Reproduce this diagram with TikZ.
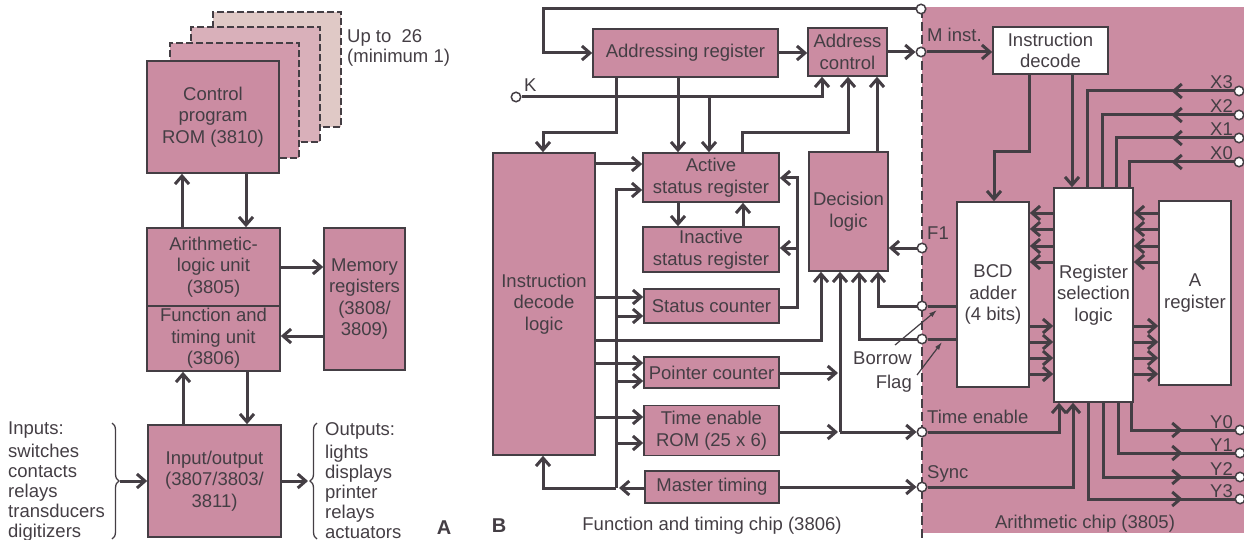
\documentclass[tikz,border=0pt]{standalone}
\usepackage{fontspec}
\setmainfont{Liberation Sans}
\usetikzlibrary{arrows.meta,decorations.pathreplacing,decorations.markings}
\definecolor{chip}{RGB}{203,140,162}
\definecolor{ghostA}{RGB}{210,154,172}
\definecolor{ghostB}{RGB}{217,176,186}
\definecolor{ghostC}{RGB}{224,201,198}
\definecolor{ink}{RGB}{68,62,68}
\begin{document}
\begin{tikzpicture}[x=1pt,y=-1pt,line join=miter,
  font=\fontsize{18.5}{21.5}\selectfont,
  blk/.style={draw=ink,line width=1.6pt,fill=chip,inner sep=0pt,align=center,text=ink},
  wblk/.style={blk,fill=white},
  ghost/.style={draw=ink,line width=1.5pt,dash pattern=on 7pt off 3pt,inner sep=0pt},
  ln/.style={draw=ink,line width=3pt},
  arr/.style={ln,-{Straight Barb[length=8pt,width=14pt]}},
  port/.style={circle,draw=ink,fill=white,line width=1.5pt,minimum size=9.5pt,inner sep=0pt},
  lbl/.style={inner sep=0pt,text=ink},
  midarr/.style={ln,postaction={decorate},decoration={markings,mark=at position #1 with {\arrow{Straight Barb[length=8pt,width=14pt]}}}},
  ptr/.style={draw=ink,line width=1.2pt,-{Latex[length=8pt,width=5pt]}},
  brc/.style={draw=ink,line width=1.3pt,decorate,decoration={brace,amplitude=7pt}},
]
\useasboundingbox (0,0) rectangle (1244,540);

% ---------------- Panel A: system ----------------
\node[ghost,fill=ghostC,minimum width=128pt,minimum height=115pt] (g3) at (277,69.5) {};
\node[ghost,fill=ghostB,minimum width=129pt,minimum height=115pt] (g2) at (255.5,84.5) {};
\node[ghost,fill=ghostA,minimum width=129pt,minimum height=115pt] (g1) at (234.5,100.5) {};
\node[blk,minimum width=132pt,minimum height=112pt] (rom) at (213,117) {Control\\program\\ROM (3810)};
\node[lbl,anchor=north west,align=left,font=\fontsize{18.5}{20}\selectfont] (upto) at (347,29) {Up to\ \ 26\\(minimum 1)};

\node[blk,minimum width=133pt,minimum height=78pt] (alu) at (213.5,267) {Arithmetic-\\logic unit\\(3805)};
\node[blk,minimum width=133pt,minimum height=65pt] (ftu) at (213.5,338.5) {Function and\\timing unit\\(3806)};
\node[blk,minimum width=81pt,minimum height=142pt] (mem) at (364.5,299) {Memory\\registers\\(3808/\\3809)};
\node[blk,minimum width=133pt,minimum height=112pt] (io) at (214.5,481) {Input/output\\(3807/3803/\\3811)};

\draw[arr] (alu.north -| 182,0) -- (rom.south -| 182,0);
\draw[arr] (rom.south -| 246,0) -- (alu.north -| 246,0);
\draw[arr] (alu.east |- 0,267) -- (mem.west |- 0,267);
\draw[arr] (mem.west |- 0,336) -- (ftu.east |- 0,336);
\draw[arr] (io.north -| 183,0) -- (ftu.south -| 183,0);
\draw[arr] (ftu.south -| 247,0) -- (io.north -| 247,0);

\node[lbl,anchor=north west,align=left,font=\fontsize{18.5}{20}\selectfont] (inp) at (8,422)
  {Inputs:\\[3pt]switches\\contacts\\relays\\transducers\\digitizers};
\node[lbl,anchor=north west,align=left,font=\fontsize{18.5}{20}\selectfont] (outp) at (325,422)
  {Outputs:\\[3pt]lights\\displays\\printer\\relays\\actuators};
\draw[brc] (112,423) -- (112,539);
\coordinate (inTip) at (120,481);
\draw[arr] (inTip) -- (io.west |- inTip);
\draw[brc] (317,539) -- (317,423);
\coordinate (outTip) at (308,481);
\draw[arr] (io.east |- outTip) -- (outTip);

\node[lbl,font=\fontsize{20}{24}\bfseries] (tagA) at (444,528) {A};
\node[lbl,font=\fontsize{20}{24}\bfseries] (tagB) at (499,526) {B};

% ---------------- Panel B: chips ----------------
\fill[chip] (922,7) rectangle (1244,533);
\draw[ink,line width=1.2pt,dash pattern=on 9pt off 4pt] (922,9) -- (922,540);

% function and timing chip
\node[blk,minimum width=185pt,minimum height=48pt] (areg) at (685.5,53) {Addressing register};
\node[blk,minimum width=79pt,minimum height=48pt] (actl) at (847.5,52) {Address\\control};
\node[blk,minimum width=102pt,minimum height=302pt] (idl) at (544,304) {Instruction\\decode\\logic};
\node[blk,minimum width=136pt,minimum height=49pt] (asr) at (711,177.5) {Active\\status register};
\node[blk,minimum width=136pt,minimum height=45pt] (isr) at (711,249.5) {Inactive\\status register};
\node[blk,minimum width=135pt,minimum height=34pt] (sc) at (711.5,306) {Status counter};
\node[blk,minimum width=135pt,minimum height=31pt] (pc) at (711.5,372.5) {Pointer counter};
\node[blk,minimum width=135pt,minimum height=50pt] (te) at (711.5,430.5) {Time enable\\ROM (25 x 6)};
\node[blk,minimum width=134pt,minimum height=32pt] (mt) at (712,487) {Master timing};
\node[blk,minimum width=79pt,minimum height=119pt] (dl) at (848.5,211.5) {Decision\\logic};

% pins on the chip boundary
\node[port] (ctop) at (921,9) {};
\node[port] (cm) at (921,52) {};
\node[port] (ck) at (516,97) {};
\node[port] (cf1) at (922,248) {};
\node[port] (cb1) at (922,306) {};
\node[port] (cb2) at (922,339) {};
\node[port] (cte) at (922,432) {};
\node[port] (csync) at (922,487) {};

\node[lbl,anchor=base west] (kl) at (524,91.5) {K};
\node[lbl,anchor=base west] (ml) at (927,41.5) {M inst.};
\node[lbl,anchor=base west] (fl) at (927,239.5) {F1};
\node[lbl,anchor=base west] (tl) at (927,423.5) {Time enable};
\node[lbl,anchor=base west] (sl) at (927,478.5) {Sync};
\node[lbl,anchor=base east] (borrow) at (912,364) {Borrow};
\node[lbl,anchor=base east] (flag) at (912,388) {Flag};
\node[lbl,anchor=base] (capB) at (712,530) {Function and timing chip (3806)};
\node[lbl,anchor=base] (capC) at (1085,528) {Arithmetic chip (3805)};

% address path
\draw[arr] (ctop) -- (543,9) -- (543,53) -- (areg.west);
\draw[arr] (areg.east) -- (areg.east -| actl.west);
\draw[arr] (actl.east |- cm) -- (cm);
\draw[arr] (ck) -- (822,97) -- (actl.south -| 822,0);
\draw[arr] (areg.south -| 616,0) -- (616,133) -- (543,133) -- (idl.north -| 543,0);
\draw[arr] (areg.south -| 678,0) -- (asr.north -| 678,0);
\draw[arr] (709,97) -- (asr.north -| 709,0);
\draw[arr] (asr.north -| 742,0) -- (742,133) -- (848,133) -- (actl.south -| 848,0);
\draw[arr] (dl.north -| 877,0) -- (actl.south -| 877,0);

% status registers
\draw[arr] (idl.east |- 0,164) -- (asr.west |- 0,164);
\draw[arr] (asr.south -| 678,0) -- (isr.north -| 678,0);
\draw[arr] (isr.north -| 743,0) -- (asr.south -| 743,0);
\draw[arr] (sc.east |- 0,307) -- (797,307) -- (797,178) -- (asr.east |- 0,178);
\draw[arr] (797,248) -- (isr.east |- 0,248);

% timing bus
\draw[arr] (mt.west |- 0,488) -- (619,488);
\draw[arr] (616,488) -- (616,190) -- (asr.west |- 0,190);
\draw[arr] (616,488) -- (543,488) -- (idl.south -| 543,0);
\draw[arr] (idl.east |- 0,297) -- (sc.west |- 0,297);
\draw[arr] (616,316) -- (sc.west |- 0,316);
\draw[arr] (idl.east |- 0,363) -- (pc.west |- 0,363);
\draw[arr] (616,381) -- (pc.west |- 0,381);
\draw[arr] (idl.east |- 0,417) -- (te.west |- 0,417);
\draw[arr] (616,443) -- (te.west |- 0,443);

% decision logic inputs
\draw[arr] (idl.east |- 0,340) -- (821,340) -- (dl.south -| 821,0);
\draw[arr] (pc.east |- 0,373) -- (838,373);
\draw[arr] (te.east |- 0,432) -- (838,432);
\draw[arr] (840,432) -- (dl.south -| 840,0);
\draw[arr] (840,432) -- (cte);
\draw[arr] (cb2) -- (859,339) -- (dl.south -| 859,0);
\draw[arr] (cb1) -- (878,306) -- (dl.south -| 878,0);
\draw[arr] (cf1) -- (dl.east |- cf1);
\draw[arr] (mt.east |- csync) -- (csync);

\draw[ptr] (895,345) -- (937,310);
\draw[ptr] (917,375) -- (942,342);

% arithmetic chip
\node[wblk,minimum width=115pt,minimum height=47pt] (idec) at (1050.5,50.5) {Instruction\\decode};
\node[wblk,minimum width=72pt,minimum height=185pt] (bcd) at (993,294.5) {BCD\\adder\\(4 bits)};
\node[wblk,minimum width=79pt,minimum height=214pt] (rsl) at (1093.5,295) {Register\\selection\\logic};
\node[wblk,minimum width=72pt,minimum height=184pt] (areg2) at (1195,293) {A\\register};

\draw[arr] (cm) -- (idec.west |- cm);
\draw[ln] (cb1) -- (bcd.west |- cb1);
\draw[ln] (cb2) -- (bcd.west |- cb2);
\draw[arr] (idec.south -| 1029,0) -- (1029,152) -- (994,152) -- (bcd.north -| 994,0);
\draw[arr] (idec.south -| 1072,0) -- (rsl.north -| 1072,0);
\draw[arr] (cte) -- (1059,432) -- (rsl.south -| 1059,0);
\draw[arr] (csync) -- (1073,487) -- (rsl.south -| 1073,0);

\foreach \y in {213,229,246,262}{
  \draw[arr] (rsl.west |- 0,\y) -- (bcd.east |- 0,\y);
  \draw[arr] (areg2.west |- 0,\y) -- (rsl.east |- 0,\y);
}
\foreach \y in {326,342,358,374}{
  \draw[arr] (bcd.east |- 0,\y) -- (rsl.west |- 0,\y);
  \draw[arr] (rsl.east |- 0,\y) -- (areg2.west |- 0,\y);
}

% X inputs
\node[port] (x3) at (1239,91) {};
\node[port] (x2) at (1239,115) {};
\node[port] (x1) at (1239,138) {};
\node[port] (x0) at (1239,162) {};
\draw[midarr=62pt] (x3) -- (1087,91) -- (rsl.north -| 1087,0);
\draw[midarr=62pt] (x2) -- (1102,115) -- (rsl.north -| 1102,0);
\draw[midarr=62pt] (x1) -- (1116,138) -- (rsl.north -| 1116,0);
\draw[midarr=62pt] (x0) -- (1129,162) -- (rsl.north -| 1129,0);
\node[lbl,anchor=base east] (x3l) at (1233,89) {X3};
\node[lbl,anchor=base east] (x2l) at (1233,113) {X2};
\node[lbl,anchor=base east] (x1l) at (1233,136) {X1};
\node[lbl,anchor=base east] (x0l) at (1233,160) {X0};

% Y outputs
\node[port] (y0) at (1240,430) {};
\node[port] (y1) at (1240,453) {};
\node[port] (y2) at (1240,477) {};
\node[port] (y3) at (1240,499) {};
\draw[midarr=-52pt] (rsl.south -| 1131,0) -- (1131,430) -- (y0);
\draw[midarr=-52pt] (rsl.south -| 1118,0) -- (1118,453) -- (y1);
\draw[midarr=-52pt] (rsl.south -| 1103,0) -- (1103,477) -- (y2);
\draw[midarr=-52pt] (rsl.south -| 1088,0) -- (1088,499) -- (y3);
\node[lbl,anchor=base east] (y0l) at (1233,428) {Y0};
\node[lbl,anchor=base east] (y1l) at (1233,451) {Y1};
\node[lbl,anchor=base east] (y2l) at (1233,475) {Y2};
\node[lbl,anchor=base east] (y3l) at (1233,497) {Y3};
\end{tikzpicture}
\end{document}
